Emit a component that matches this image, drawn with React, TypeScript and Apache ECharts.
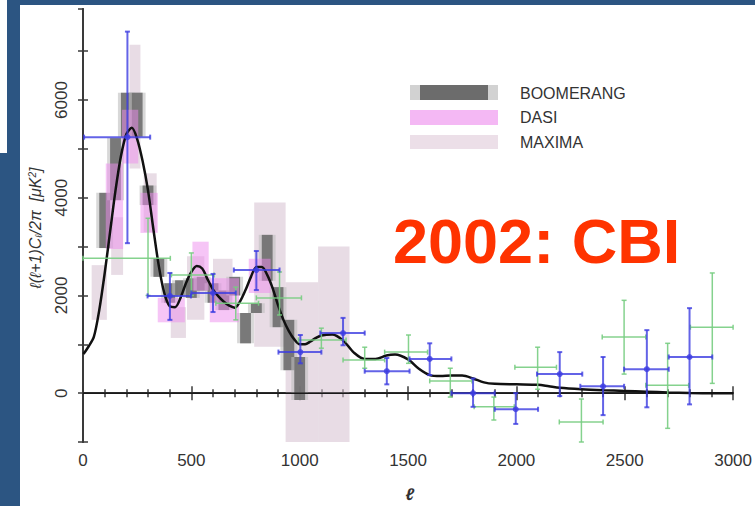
import { useEffect, useRef } from "react";
import * as echarts from "echarts";

// Theory curve: multipole ℓ vs ℓ(ℓ+1)Cℓ/2π in μK²
const theoryL = [2, 25, 50, 75, 100, 125, 150, 175, 200, 225, 250, 275, 300, 325, 350, 375, 400, 425, 450, 475, 500, 525, 550, 575, 600, 625, 650, 675, 700, 725, 750, 775, 800, 825, 850, 875, 900, 925, 950, 975, 1000, 1025, 1050, 1075, 1100, 1150, 1200, 1250, 1300, 1350, 1400, 1440, 1500, 1550, 1600, 1650, 1700, 1750, 1800, 1850, 1900, 2000, 2100, 2150, 2200, 2300, 2400, 2500, 2600, 2700, 2800, 2900, 3000];
const theoryPower = [800, 950, 1150, 1700, 2450, 3300, 4150, 4850, 5300, 5430, 5200, 4750, 4150, 3350, 2600, 2050, 1780, 1760, 1950, 2250, 2480, 2600, 2550, 2330, 2120, 1980, 1870, 1790, 1750, 1880, 2110, 2380, 2580, 2580, 2420, 2150, 1800, 1500, 1270, 1100, 1000, 1000, 1060, 1130, 1180, 1200, 1080, 830, 700, 700, 770, 790, 690, 500, 370, 350, 360, 360, 300, 220, 190, 180, 170, 140, 110, 80, 60, 45, 30, 15, 5, 0, 0];

// Band powers as boxes: [ℓ min, ℓ max, low, high]
const boomerangBins = [
  [75, 125, 2970, 4100],
  [125, 175, 3950, 5220],
  [175, 225, 5250, 6150],
  [225, 275, 5250, 6150],
  [275, 325, 3850, 4250],
  [325, 375, 2380, 2760],
  [375, 425, 1850, 2250],
  [425, 475, 2000, 2310],
  [475, 525, 1950, 2350],
  [525, 575, 2100, 2380],
  [575, 625, 1850, 2250],
  [625, 675, 1700, 2100],
  [675, 725, 2000, 2380],
  [725, 775, 1020, 1640],
  [775, 825, 1640, 1840],
  [825, 875, 2300, 3240],
  [875, 925, 1350, 2170],
  [925, 975, 470, 1500],
  [975, 1025, -140, 740],
];
const dasiBins = [
  [105, 185, 2950, 4700],
  [180, 255, 4700, 5800],
  [265, 345, 3280, 4100],
  [345, 470, 1450, 1950],
  [505, 580, 2100, 3100],
  [585, 720, 1450, 2350],
  [765, 866, 2050, 2750],
];
const maximaBins = [
  [40, 110, 1500, 2620],
  [130, 185, 2420, 3600],
  [215, 265, 4600, 7130],
  [280, 340, 3300, 4500],
  [405, 475, 1130, 1760],
  [480, 560, 1500, 2800],
  [600, 690, 1900, 2750],
  [790, 935, 950, 3900],
  [935, 1085, -1000, 2270],
  [1085, 1230, -1000, 3000],
];

// CBI points: [ℓ, value, ℓ min, ℓ max, low, high]
const cbiMosaic = [
  [205, 5240, 5, 310, 3070, 7400],
  [401, 1990, 298, 498, 1500, 2460],
  [600, 2050, 500, 705, 1660, 2440],
  [800, 2520, 696, 907, 2110, 2910],
  [1003, 840, 902, 1100, 610, 1190],
  [1200, 1230, 1095, 1300, 980, 1540],
  [1402, 450, 1300, 1507, 180, 720],
  [1600, 700, 1507, 1700, 370, 1020],
  [1800, 0, 1700, 1900, -280, 300],
  [1997, -330, 1900, 2100, -630, 0],
  [2200, 390, 2095, 2304, -60, 840],
  [2400, 140, 2295, 2497, -450, 740],
  [2602, 490, 2497, 2703, -290, 1290],
  [2799, 740, 2703, 2904, -230, 1740],
];
const cbiDeep = [
  [300, 2760, 0, 403, 2000, 3580],
  [500, 2420, 408, 605, 2000, 2870],
  [705, 1840, 613, 810, 1500, 2170],
  [907, 1950, 800, 1008, 1600, 2480],
  [1100, 1090, 994, 1214, 920, 1330],
  [1300, 680, 1200, 1392, 510, 940],
  [1502, 840, 1392, 1590, 610, 1190],
  [1695, 250, 1600, 1795, -80, 510],
  [1896, -280, 1805, 1990, -550, -80],
  [2098, 530, 1993, 2185, 80, 940],
  [2300, -590, 2198, 2400, -1000, -120],
  [2497, 1150, 2396, 2597, 390, 1900],
  [2698, 160, 2597, 2795, -720, 1020],
  [2904, 1350, 2803, 3000, 200, 2460],
];

const yTickLabels = [0, 2000, 4000, 6000];
const legendNames = ["BOOMERANG", "DASI", "MAXIMA"];

const SLIDE_BLUE = "#2c5582";
const TEXT = "#333333";
const FONT = "Liberation Sans, Arial, Helvetica, sans-serif";

function clipRect(p0: number[], p1: number[], cs: any) {
  return echarts.graphic.clipRectByRect(
    { x: p0[0], y: p0[1], width: p1[0] - p0[0], height: p1[1] - p0[1] },
    { x: cs.x, y: cs.y, width: cs.width, height: cs.height }
  );
}

function boxSeries(name: string, data: number[][], fill: string, z: number, edge?: string) {
  return {
    type: "custom",
    name,
    z,
    data,
    encode: { x: [0, 1], y: [2, 3] },
    renderItem: (params: any, api: any) => {
      const p0 = api.coord([api.value(0), api.value(3)]);
      const p1 = api.coord([api.value(1), api.value(2)]);
      const cs = params.coordSys;
      const inner = clipRect(p0, p1, cs);
      if (!inner) return null;
      const children: any[] = [];
      if (edge) {
        const outer = clipRect([p0[0] - 3, p0[1]], [p1[0] + 3, p1[1]], cs);
        if (outer) children.push({ type: "rect", shape: outer, style: { fill: edge } });
      }
      children.push({ type: "rect", shape: inner, style: { fill } });
      return { type: "group", children };
    },
  };
}

function errorSeries(name: string, data: number[][], color: string, width: number, z: number, dot: boolean) {
  return {
    type: "custom",
    name,
    z,
    data,
    encode: { x: [0, 2, 3], y: [1, 4, 5] },
    renderItem: (params: any, api: any) => {
      const cs = params.coordSys;
      const left = cs.x;
      const right = cs.x + cs.width;
      const top = cs.y;
      const bottom = cs.y + cs.height;
      const c = api.coord([api.value(0), api.value(1)]);
      const xl = api.coord([api.value(2), api.value(1)]);
      const xh = api.coord([api.value(3), api.value(1)]);
      const yl = api.coord([api.value(0), api.value(4)]);
      const yh = api.coord([api.value(0), api.value(5)]);
      const x0 = Math.max(xl[0], left);
      const x1 = Math.min(xh[0], right);
      const y0 = Math.min(yl[1], bottom);
      const y1 = Math.max(yh[1], top);
      const style = { stroke: color, lineWidth: width };
      const cap = 2.5;
      const children: any[] = [
        { type: "line", shape: { x1: x0, y1: c[1], x2: x1, y2: c[1] }, style },
        { type: "line", shape: { x1: c[0], y1: y0, x2: c[0], y2: y1 }, style },
      ];
      if (yl[1] <= bottom) children.push({ type: "line", shape: { x1: c[0] - cap, y1: y0, x2: c[0] + cap, y2: y0 }, style });
      if (yh[1] >= top) children.push({ type: "line", shape: { x1: c[0] - cap, y1: y1, x2: c[0] + cap, y2: y1 }, style });
      if (xl[0] >= left) children.push({ type: "line", shape: { x1: x0, y1: c[1] - cap, x2: x0, y2: c[1] + cap }, style });
      if (xh[0] <= right) children.push({ type: "line", shape: { x1: x1, y1: c[1] - cap, x2: x1, y2: c[1] + cap }, style });
      if (dot) children.push({ type: "circle", shape: { cx: c[0], cy: c[1], r: 3 }, style: { fill: color } });
      return { type: "group", children };
    },
  };
}

export default function App() {
  const ref = useRef<HTMLDivElement>(null);

  useEffect(() => {
    if (!ref.current) return;
    const chart = echarts.init(ref.current, undefined, { renderer: "svg" });

    const axisLine = { show: true, lineStyle: { color: "#3a3a3a", width: 2 } };
    const tickStyle = { color: "#3a3a3a", width: 1.5 };

    const option: any = {
      animation: false,
      backgroundColor: "#ffffff",
      grid: { left: 83, right: 17, top: 9, bottom: 64, containLabel: false },
      xAxis: [
        {
          type: "value",
          min: 0,
          max: 3000,
          interval: 500,
          axisLine,
          axisTick: { show: true, inside: true, length: 7, lineStyle: tickStyle },
          minorTick: { show: true, splitNumber: 5, length: 4, lineStyle: tickStyle },
          splitLine: { show: false },
          axisLabel: { color: TEXT, fontSize: 17, fontFamily: FONT, margin: 10, formatter: (v: number) => String(v) },
        },
        {
          type: "value",
          position: "top",
          min: 0,
          max: 3000,
          interval: 500,
          axisLine,
          axisTick: { show: true, inside: true, length: 7, lineStyle: tickStyle },
          minorTick: { show: true, splitNumber: 5, length: 4, lineStyle: tickStyle },
          splitLine: { show: false },
          axisLabel: { show: false },
        },
      ],
      yAxis: [
        {
          type: "value",
          min: -1000,
          max: 7863,
          interval: 1000,
          axisLine,
          axisTick: { show: true, inside: true, length: 5, lineStyle: tickStyle },
          splitLine: { show: false },
          axisLabel: {
            color: TEXT,
            fontSize: 17,
            fontFamily: FONT,
            rotate: 90,
            margin: 13,
            showMaxLabel: false,
            formatter: (v: number) => (yTickLabels.includes(v) ? String(v) : ""),
          },
        },
        {
          type: "value",
          position: "right",
          min: -1000,
          max: 7863,
          interval: 1000,
          axisLine,
          axisTick: { show: true, inside: true, length: 5, lineStyle: tickStyle },
          splitLine: { show: false },
          axisLabel: { show: false },
        },
      ],
      series: [
        boxSeries("MAXIMA", maximaBins, "rgba(214,192,208,0.55)", 1),
        boxSeries("BOOMERANG", boomerangBins, "rgba(105,105,105,0.85)", 2, "rgba(190,190,190,0.6)"),
        boxSeries("DASI", dasiBins, "rgba(238,140,238,0.5)", 3),
        {
          type: "line",
          name: "zero",
          z: 4,
          data: [[0, 0], [3000, 0]],
          showSymbol: false,
          lineStyle: { color: "#1a1a1a", width: 1.5 },
        },
        {
          type: "line",
          name: "theory",
          z: 5,
          data: theoryL.map((l, i) => [l, theoryPower[i]]),
          smooth: 0.3,
          showSymbol: false,
          lineStyle: { color: "#111111", width: 2.5 },
        },
        errorSeries("CBI deep", cbiDeep, "rgba(120,205,130,0.9)", 1.5, 6, false),
        errorSeries("CBI mosaic", cbiMosaic, "rgba(60,60,225,0.8)", 2, 7, true),
      ],
      graphic: [
        // slide frame
        { type: "rect", shape: { x: 7, y: 0, width: 13, height: 506 }, style: { fill: SLIDE_BLUE }, z: 100 },
        { type: "rect", shape: { x: 0, y: 153, width: 20, height: 353 }, style: { fill: SLIDE_BLUE }, z: 100 },
        { type: "rect", shape: { x: 7, y: 0, width: 748, height: 5 }, style: { fill: SLIDE_BLUE }, z: 100 },
        // axis titles
        {
          type: "text",
          x: 35,
          y: 228,
          rotation: Math.PI / 2,
          z: 100,
          style: {
            text: "ℓ(ℓ+1)C{s|ℓ}/2π  [μK{p|2}]",
            fontSize: 16,
            fontStyle: "italic",
            fontFamily: FONT,
            fill: TEXT,
            align: "center",
            verticalAlign: "middle",
            rich: {
              s: { fontSize: 10, fontStyle: "italic", fontFamily: FONT, fill: TEXT, verticalAlign: "bottom" },
              p: { fontSize: 10, fontStyle: "italic", fontFamily: FONT, fill: TEXT, verticalAlign: "top" },
            },
          },
        },
        {
          type: "text",
          x: 410,
          y: 494,
          z: 100,
          style: { text: "ℓ", fontSize: 17, fontStyle: "italic", fontWeight: "bold", fontFamily: FONT, fill: TEXT, align: "center", verticalAlign: "middle" },
        },
        // headline
        {
          type: "text",
          x: 393,
          y: 241,
          z: 100,
          style: { text: "2002: CBI", fontSize: 63, fontWeight: "bold", fontFamily: FONT, fill: "#ff3300", align: "left", verticalAlign: "middle" },
        },
        // legend
        { type: "rect", shape: { x: 410, y: 85, width: 88, height: 15 }, style: { fill: "#d2d2d2" }, z: 100 },
        { type: "rect", shape: { x: 420, y: 85, width: 68, height: 15 }, style: { fill: "#6c6c6c" }, z: 101 },
        { type: "rect", shape: { x: 410, y: 110, width: 88, height: 15 }, style: { fill: "#f4b8f4" }, z: 100 },
        { type: "rect", shape: { x: 410, y: 135, width: 88, height: 14 }, style: { fill: "#ecdfe8" }, z: 100 },
        ...legendNames.map((name, i) => ({
          type: "text",
          x: 520,
          y: 93 + i * 24.5,
          z: 100,
          style: { text: name, fontSize: 16, fontFamily: FONT, fill: TEXT, align: "left", verticalAlign: "middle" },
        })),
      ],
    };

    chart.setOption(option);
    return () => chart.dispose();
  }, []);

  return (
    <div
      ref={ref}
      style={{ position: "fixed", left: 0, top: 0, width: 755, height: 506, background: "#ffffff" }}
    />
  );
}
